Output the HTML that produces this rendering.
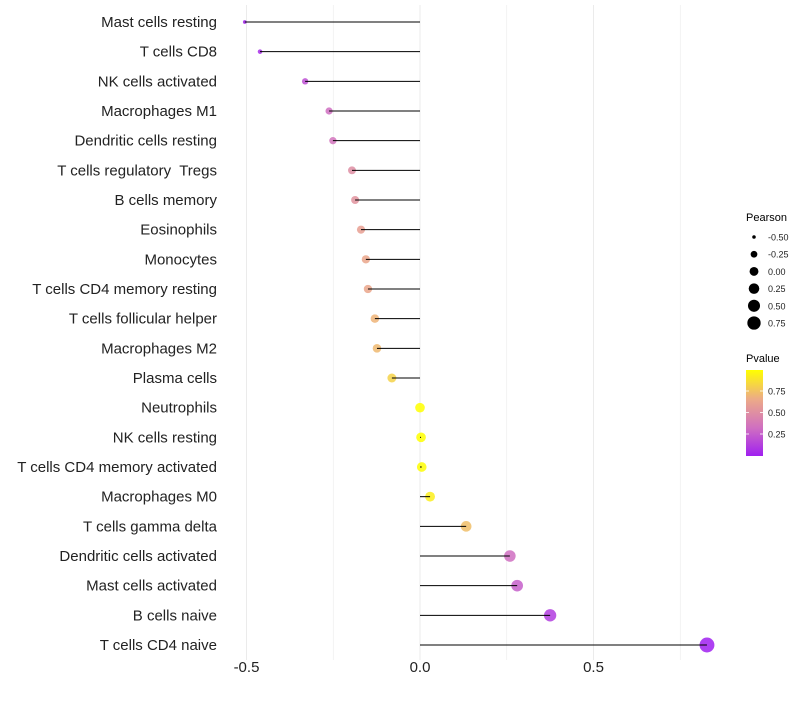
<!DOCTYPE html>
<html><head><meta charset="utf-8"><style>
body{margin:0;background:#fff;font-family:"Liberation Sans",sans-serif}
text{white-space:pre}
</style></head><body>
<svg id="c" width="800" height="700" xmlns="http://www.w3.org/2000/svg" font-family="Liberation Sans, sans-serif"></svg>
<script>
const categories=["Mast cells resting","T cells CD8","NK cells activated","Macrophages M1","Dendritic cells resting","T cells regulatory  Tregs","B cells memory","Eosinophils","Monocytes","T cells CD4 memory resting","T cells follicular helper","Macrophages M2","Plasma cells","Neutrophils","NK cells resting","T cells CD4 memory activated","Macrophages M0","T cells gamma delta","Dendritic cells activated","Mast cells activated","B cells naive","T cells CD4 naive"];
const pearson=[-0.505,-0.461,-0.331,-0.262,-0.251,-0.196,-0.187,-0.170,-0.156,-0.150,-0.130,-0.124,-0.081,0.0,0.003,0.005,0.029,0.133,0.259,0.280,0.375,0.827];
const pvalue=[0.02,0.05,0.2,0.32,0.35,0.5,0.53,0.6,0.64,0.64,0.7,0.72,0.82,1.0,1.0,0.99,0.93,0.74,0.32,0.26,0.12,0.0];
const xTicks=[-0.5,0,0.5];
const gridTicks=[-0.5,-0.25,0,0.25,0.5,0.75];
const sizeLegend=[-0.5,-0.25,0,0.25,0.5,0.75];
const pLegend=[0.25,0.5,0.75];
const NS="http://www.w3.org/2000/svg",svg=document.getElementById('c');
const x=v=>420+v*347, y=i=>22+i*(623/21);
const r=p=>Math.sqrt(3.5+Math.max(0,(p+0.505)/1.332)*52);
function mk(t,a,p){const e=document.createElementNS(NS,t);for(const k in a)e.setAttribute(k,a[k]);(p||svg).appendChild(e);return e;}
const stops=[[0,[160,32,240]],[0.33,[208,112,192]],[0.66,[236,170,136]],[1,[255,255,0]]];
function col(v){for(let i=1;i<stops.length;i++){if(v<=stops[i][0]){const [a,ca]=stops[i-1],[b,cb]=stops[i];const t=(v-a)/(b-a);return 'rgb('+ca.map((c,j)=>Math.round(c+(cb[j]-c)*t)).join(',')+')';}}return 'rgb(255,255,0)';}
gridTicks.forEach(t=>{const g=mk('line',{x1:x(t),x2:x(t),y1:5,y2:660,stroke:'#ebebeb','stroke-width':t*2%1===0?1:0.6});
});
xTicks.forEach(t=>{const e=mk('text',{x:x(t),y:672,'text-anchor':'middle','font-size':15,fill:'#222'});e.textContent=t===0?'0.0':t.toFixed(1);
});
categories.forEach((c,i)=>{
const l=mk('text',{x:217,y:y(i)+5,'text-anchor':'end','font-size':15,fill:'#222'});l.textContent=c;

const p=mk('circle',{cx:x(pearson[i]),cy:y(i),r:r(pearson[i]),fill:col(pvalue[i]),'fill-opacity':0.85});

const s=mk('line',{x1:x(0),x2:x(pearson[i]),y1:y(i),y2:y(i),stroke:'#000','stroke-width':1});

});
const lt=mk('text',{x:746,y:221,'font-size':11,fill:'#000'});lt.textContent='Pearson';

sizeLegend.forEach((v,i)=>{const cy=237+i*17.2;
const c=mk('circle',{cx:754,cy:cy,r:r(v)*0.92,fill:'#000'});
const t=mk('text',{x:768,y:cy+3.5,'font-size':9,fill:'#222'});t.textContent=v.toFixed(2);});
const pt=mk('text',{x:746,y:362,'font-size':11,fill:'#000'});pt.textContent='Pvalue';

const defs=mk('defs',{});const lg=mk('linearGradient',{id:'g',x1:0,y1:1,x2:0,y2:0},defs);
stops.forEach(s=>mk('stop',{offset:s[0],'stop-color':'rgb('+s[1].join(',')+')'},lg));
const bar=mk('rect',{x:746,y:370,width:17,height:86,fill:'url(#g)'});

pLegend.forEach(v=>{const yy=455.5-v*86;
mk('line',{x1:746,x2:749,y1:yy,y2:yy,stroke:'#fff','stroke-width':0.8});mk('line',{x1:760,x2:763,y1:yy,y2:yy,stroke:'#fff','stroke-width':0.8});
const t=mk('text',{x:768,y:yy+3.5,'font-size':9,fill:'#222'});t.textContent=v.toFixed(2);});
</script>
</body></html>
